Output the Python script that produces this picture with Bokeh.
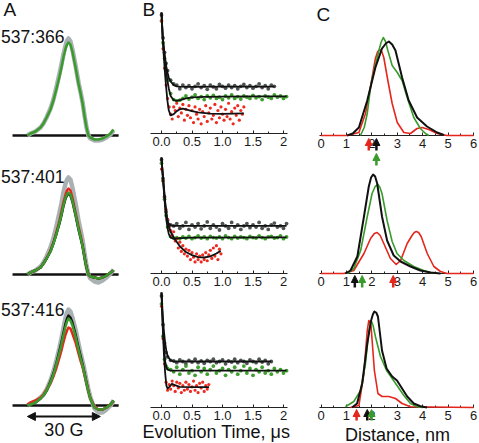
from bokeh.plotting import figure
from bokeh.layouts import row
from bokeh.models import Range1d, LinearAxis, FixedTicker, Label, Arrow, NormalHead
from bokeh.embed import file_html
from bokeh.resources import INLINE

# ---------------- data ----------------
# Panel A: cw EPR spectra (field offset in G, intensity a.u.)
A_FIELD = [-16.9, -15.6, -13.6, -11.5, -10.3, -9.0, -7.4, -6.2, -4.9, -3.7, -2.9, -2.1, -1.2, -0.6, 0.0,
           0.8, 1.6, 2.9, 4.1, 4.9, 5.8, 6.6, 7.4, 8.2, 9.0, 10.7, 12.3, 14.0, 15.6, 17.3, 18.5]
A1_GRAY = [0, 2, 4, 8, 12, 18, 27, 36, 49, 62, 71, 81, 90, 95, 97, 94, 86, 70, 53, 44, 33, 20, 8, 0, -3, -5, -5, -4, -2, 1, 5]
A1_GREEN = [0, 2, 4, 8, 12, 18, 26, 35, 47, 59, 68, 78, 87, 91, 93, 91, 84, 68, 52, 43, 32, 19, 8, 0, -2, -4, -4, -3, -1, 2, 6]
A2_GRAY = [0, 2, 4, 8, 12, 18, 27, 36, 49, 62, 71, 82, 91, 95, 97, 95, 87, 71, 54, 45, 34, 21, 9, 0, -4, -7, -8, -6, -3, 1, 5]
A2_RED = [0, 2, 4, 7, 11, 16, 24, 32, 43, 54, 63, 72, 80, 84, 86, 84, 77, 62, 48, 40, 29, 18, 7, 0, -2, -3, -4, -3, -1, 2, 4]
A2_BLACK = [0, 2, 4, 7, 11, 16, 23, 31, 41, 51, 59, 68, 76, 79, 81, 79, 73, 59, 45, 37, 28, 17, 7, 0, -2, -3, -4, -3, -1, 2, 4]
A2_GREEN = [0, 2, 4, 7, 11, 16, 23, 31, 41, 52, 60, 69, 77, 80, 82, 80, 74, 60, 46, 38, 28, 17, 7, 0, -2, -3, -4, -3, -1, 2, 4]
A3_GRAY = [0, 2, 4, 8, 11, 16, 25, 34, 46, 58, 67, 77, 88, 93, 96, 94, 88, 76, 62, 53, 44, 35, 25, 16, 8, -3, -7, -7, -4, 0, 5]
A3_BLACK = [0, 1, 3, 7, 10, 15, 24, 32, 43, 55, 63, 72, 82, 87, 90, 88, 83, 71, 58, 50, 41, 32, 23, 14, 7, -2, -4, -4, -2, 1, 5]
A3_RED = [1, 3, 5, 8, 11, 16, 22, 29, 38, 48, 55, 63, 71, 75, 78, 77, 72, 63, 52, 45, 38, 30, 22, 14, 7, -1, -4, -4, -2, 1, 4]
A3_GREEN = [0, 1, 3, 7, 10, 15, 23, 31, 42, 53, 61, 70, 79, 84, 87, 85, 80, 69, 56, 48, 40, 31, 22, 14, 7, -2, -4, -4, -2, 1, 5]
A_BASE_X = [-23.0, 20.6]
A_BASE_Y = [0, 0]
A_LABELS = ["537:366", "537:401", "537:416"]
A_SCALE_G = [-16.9, 13.1]  # 30 G bar

# Panel B: DEER traces (time in us, normalised echo)
T_DOTS = [0.0, 0.025, 0.05, 0.075, 0.1, 0.15, 0.2, 0.25, 0.3, 0.35, 0.4, 0.45, 0.5, 0.55, 0.6, 0.65, 0.7, 0.75,
          0.8, 0.85, 0.9, 0.95, 1.0, 1.05, 1.1, 1.15, 1.2, 1.25, 1.3, 1.35, 1.4, 1.45, 1.5, 1.55, 1.6, 1.65, 1.7,
          1.75, 1.8, 1.85, 1.9, 1.95, 2.0, 2.05]
T_RED = [0.0, 0.025, 0.05, 0.075, 0.1, 0.125, 0.15, 0.175, 0.2, 0.225, 0.25, 0.275, 0.3, 0.325, 0.35, 0.375,
         0.4, 0.425, 0.45, 0.475, 0.5, 0.525, 0.55, 0.575, 0.6, 0.625, 0.65, 0.675, 0.7, 0.725, 0.75, 0.775,
         0.8, 0.825, 0.85, 0.875, 0.9, 0.925, 0.95, 0.975, 1.0, 1.025, 1.05, 1.075, 1.1, 1.125, 1.15, 1.175,
         1.2, 1.225, 1.25, 1.275, 1.3, 1.325, 1.35]

B1_GRAY = [0.98, 0.79, 0.67, 0.58, 0.52, 0.44, 0.41, 0.40, 0.37, 0.40, 0.38, 0.395, 0.37, 0.39, 0.41, 0.38, 0.395,
           0.365, 0.40, 0.385, 0.37, 0.405, 0.39, 0.375, 0.40, 0.38, 0.395, 0.37, 0.39, 0.405, 0.38, 0.395, 0.375,
           0.39, 0.41, 0.38, 0.395, 0.37, 0.40, 0.39]
B1_GREEN = [0.93, 0.75, 0.62, 0.52, 0.44, 0.33, 0.28, 0.27, 0.275, 0.29, 0.31, 0.285, 0.30, 0.32, 0.29, 0.305,
            0.28, 0.31, 0.295, 0.315, 0.29, 0.30, 0.28, 0.31, 0.295, 0.32, 0.29, 0.305, 0.285, 0.31, 0.30, 0.29,
            0.315, 0.295, 0.305, 0.28, 0.31, 0.30, 0.29, 0.32, 0.30, 0.31, 0.29, 0.305]
B1_RED = [0.93, 0.70, 0.54, 0.40, 0.29, 0.22, 0.16, 0.12, 0.22, 0.19, 0.25, 0.14, 0.21, 0.17, 0.24, 0.11, 0.20,
          0.15, 0.23, 0.13, 0.19, 0.09, 0.22, 0.16, 0.12, 0.20, 0.08, 0.18, 0.14, 0.23, 0.10, 0.17, 0.21, 0.12,
          0.15, 0.24, 0.09, 0.19, 0.13, 0.22, 0.16, 0.11, 0.20, 0.14, 0.25, 0.12, 0.18, 0.08, 0.21, 0.15, 0.23,
          0.11, 0.19, 0.16, 0.22]
B1_FIT_GRAY_T = [0, 0.02, 0.04, 0.06, 0.08, 0.10, 0.12, 0.15, 0.2, 0.25, 0.3, 0.5, 1.0, 1.5, 1.85]
B1_FIT_GRAY = [1.0, 0.80, 0.70, 0.62, 0.55, 0.50, 0.46, 0.43, 0.40, 0.39, 0.388, 0.385, 0.387, 0.387, 0.388]
B1_FIT_GREEN_T = [0, 0.02, 0.04, 0.06, 0.08, 0.10, 0.12, 0.15, 0.2, 0.25, 0.3, 0.4, 0.5, 0.7, 1.0, 1.5, 2.05]
B1_FIT_GREEN = [1.0, 0.80, 0.68, 0.58, 0.50, 0.43, 0.37, 0.31, 0.275, 0.27, 0.275, 0.29, 0.298, 0.303, 0.305, 0.306, 0.306]
B1_FIT_RED_T = [0, 0.02, 0.04, 0.06, 0.08, 0.10, 0.12, 0.15, 0.2, 0.25, 0.3, 0.35, 0.4, 0.5, 0.6, 0.8, 1.0, 1.35]
B1_FIT_RED = [1.0, 0.78, 0.62, 0.48, 0.36, 0.26, 0.19, 0.15, 0.16, 0.185, 0.20, 0.205, 0.20, 0.185, 0.175, 0.165, 0.163, 0.167]

B2_GRAY = [0.98, 0.82, 0.66, 0.53, 0.46, 0.42, 0.41, 0.43, 0.39, 0.41, 0.44, 0.38, 0.42, 0.40, 0.43, 0.385, 0.41,
           0.445, 0.39, 0.42, 0.40, 0.375, 0.43, 0.41, 0.39, 0.44, 0.40, 0.42, 0.38, 0.41, 0.43, 0.395, 0.42, 0.40,
           0.44, 0.39, 0.41, 0.38, 0.42, 0.435, 0.40, 0.41, 0.39, 0.43]
B2_GREEN = [0.95, 0.80, 0.64, 0.50, 0.40, 0.32, 0.305, 0.31, 0.30, 0.315, 0.305, 0.32, 0.30, 0.31, 0.325, 0.305,
            0.315, 0.30, 0.32, 0.31, 0.305, 0.315, 0.30, 0.325, 0.31, 0.30, 0.32, 0.305, 0.315, 0.31, 0.30, 0.32,
            0.31, 0.305, 0.325, 0.31, 0.30, 0.315, 0.32, 0.305, 0.31, 0.325, 0.30, 0.315]
B2_RED = [0.90, 0.80, 0.66, 0.55, 0.47, 0.40, 0.37, 0.33, 0.36, 0.28, 0.30, 0.22, 0.27, 0.19, 0.24, 0.17, 0.21,
          0.15, 0.20, 0.12, 0.18, 0.14, 0.10, 0.17, 0.12, 0.15, 0.10, 0.16, 0.12, 0.18, 0.11, 0.16, 0.20, 0.13,
          0.22, 0.15, 0.24, 0.12, 0.21, 0.17]
B2_FIT_GRAY_T = [0, 0.02, 0.04, 0.06, 0.08, 0.1, 0.12, 0.15, 0.2, 2.05]
B2_FIT_GRAY = [1.0, 0.85, 0.72, 0.60, 0.50, 0.45, 0.43, 0.415, 0.41, 0.41]
B2_FIT_GREEN_T = [0, 0.02, 0.04, 0.06, 0.08, 0.1, 0.12, 0.15, 0.2, 0.3, 0.5, 2.05]
B2_FIT_GREEN = [1.0, 0.84, 0.70, 0.57, 0.46, 0.39, 0.34, 0.31, 0.30, 0.305, 0.31, 0.312]
B2_FIT_RED_T = [0, 0.02, 0.04, 0.06, 0.08, 0.1, 0.15, 0.2, 0.3, 0.4, 0.5, 0.6, 0.7, 0.8, 0.9, 0.97]
B2_FIT_RED = [1.0, 0.86, 0.74, 0.62, 0.52, 0.44, 0.36, 0.31, 0.235, 0.185, 0.158, 0.142, 0.138, 0.148, 0.172, 0.195]

B3_GRAY = [0.97, 0.72, 0.56, 0.48, 0.44, 0.41, 0.405, 0.39, 0.415, 0.40, 0.38, 0.41, 0.395, 0.42, 0.39, 0.405,
           0.385, 0.41, 0.40, 0.42, 0.39, 0.40, 0.415, 0.38, 0.405, 0.395, 0.42, 0.39, 0.41, 0.40, 0.385, 0.415,
           0.40, 0.39, 0.42, 0.395, 0.41, 0.38, 0.40]
B3_GREEN = [0.90, 0.62, 0.42, 0.36, 0.34, 0.33, 0.31, 0.35, 0.29, 0.33, 0.36, 0.30, 0.32, 0.28, 0.35, 0.31, 0.34,
            0.29, 0.33, 0.36, 0.30, 0.32, 0.34, 0.28, 0.33, 0.31, 0.35, 0.29, 0.32, 0.36, 0.30, 0.34, 0.28, 0.33,
            0.31, 0.35, 0.30, 0.32, 0.29, 0.34, 0.31, 0.33, 0.30, 0.32]
B3_RED = [0.88, 0.60, 0.38, 0.22, 0.15, 0.20, 0.16, 0.23, 0.19, 0.14, 0.22, 0.17, 0.21, 0.13, 0.19, 0.15, 0.22,
          0.16, 0.20, 0.14, 0.18, 0.23, 0.15, 0.19, 0.13, 0.21, 0.17, 0.22, 0.14, 0.19, 0.16, 0.20]
B3_FIT_GRAY_T = [0, 0.02, 0.04, 0.06, 0.08, 0.1, 0.12, 0.15, 0.2, 1.8]
B3_FIT_GRAY = [1.0, 0.80, 0.66, 0.56, 0.49, 0.45, 0.43, 0.41, 0.40, 0.40]
B3_FIT_GREEN_T = [0, 0.02, 0.04, 0.06, 0.08, 0.1, 0.15, 2.05]
B3_FIT_GREEN = [1.0, 0.74, 0.55, 0.40, 0.35, 0.33, 0.32, 0.32]
B3_FIT_RED_T = [0, 0.02, 0.04, 0.06, 0.08, 0.1, 0.13, 0.17, 0.22, 0.3, 0.5, 0.78]
B3_FIT_RED = [1.0, 0.70, 0.46, 0.30, 0.19, 0.165, 0.18, 0.205, 0.195, 0.18, 0.178, 0.178]

B_TICKS = [0, 0.5, 1, 1.5, 2]
B_TICK_LABELS = ["0.0", "0.5", "1.0", "1.5", "2"]

# Panel C: distance distributions (nm, a.u.)
C1_BLACK_R = [1.03, 1.25, 1.49, 1.82, 2.14, 2.40, 2.55, 2.67, 2.80, 2.93, 3.19, 3.45, 3.78, 4.17, 4.57, 4.83]
C1_BLACK = [0, 2, 8, 35, 68, 87, 92, 94, 91, 85, 58, 35, 18, 9, 3, 0.5]
C1_GREEN_R = [1.55, 1.70, 1.82, 1.97, 2.21, 2.36, 2.45, 2.54, 2.63, 2.80, 3.00, 3.19, 3.39, 3.65, 3.91, 4.11, 4.24]
C1_GREEN = [0, 8, 22, 52, 78, 93, 98, 94, 85, 70, 63, 55, 38, 18, 7, 2, 0]
C1_RED_R = [0, 1.03, 1.49, 1.75, 1.97, 2.14, 2.23, 2.31, 2.39, 2.47, 2.63, 2.80, 3.00, 3.26, 3.52, 3.78, 3.98, 4.24,
            4.57, 4.96, 6.0]
C1_RED = [0, 0, 3, 22, 52, 77, 84, 86, 84, 78, 55, 32, 13, 3, 2, 7, 8, 6, 2, 0, 0]
C2_BLACK_R = [0.96, 1.16, 1.43, 1.69, 1.88, 1.97, 2.05, 2.13, 2.21, 2.40, 2.60, 2.86, 3.13, 3.52, 3.91, 4.31, 4.70]
C2_BLACK = [0, 3, 17, 57, 87, 96, 99, 97, 90, 57, 33, 18, 12, 7, 3, 1, 0]
C2_GREEN_R = [1.03, 1.29, 1.56, 1.82, 2.01, 2.13, 2.24, 2.32, 2.40, 2.60, 2.80, 2.99, 3.26, 3.65, 4.04, 4.44]
C2_GREEN = [0, 5, 23, 57, 80, 87, 89, 86, 80, 53, 32, 20, 13, 7, 3, 0]
C2_RED_R = [0, 0.90, 1.29, 1.69, 1.95, 2.10, 2.21, 2.33, 2.47, 2.73, 2.96, 3.13, 3.39, 3.58, 3.67, 3.75, 3.84, 3.94,
            4.18, 4.44, 4.70, 4.96, 6.0]
C2_RED = [0, 0, 3, 20, 35, 40, 41, 38, 30, 15, 9, 13, 30, 38, 41, 42, 41, 37, 20, 7, 2, 0, 0]
C3_BLACK_R = [1.22, 1.42, 1.62, 1.82, 1.97, 2.04, 2.10, 2.17, 2.24, 2.40, 2.58, 2.80, 2.99, 3.19, 3.39, 3.65, 3.91, 4.17]
C3_BLACK = [0, 4, 24, 64, 87, 93, 96, 95, 91, 57, 39, 31, 27, 19, 11, 4, 1.3, 0]
C3_GREEN_R = [0.96, 1.29, 1.56, 1.75, 1.88, 1.94, 1.99, 2.05, 2.14, 2.34, 2.58, 2.80, 2.99, 3.26, 3.52, 3.78, 4.0]
C3_GREEN = [0.7, 6, 17, 44, 76, 83, 86, 82, 71, 51, 37, 29, 22, 12, 4, 0.7, 0]
C3_RED_R = [1.16, 1.49, 1.69, 1.76, 1.82, 1.88, 1.93, 1.97, 2.10, 2.24, 2.40, 2.67, 2.93, 3.19, 3.52, 6.0]
C3_RED = [0, 2, 34, 58, 77, 87, 85, 81, 37, 14, 11, 11, 9, 4, 0.7, 0]
C1_ARROWS = [1.88, 2.18, 2.18]   # red, black, green mean distances
C2_ARROWS = [2.84, 1.33, 1.62]
C3_ARROWS = [1.40, 1.82, 1.99]
C_TICKS = [0, 1, 2, 3, 4, 5, 6]

# ---------------- style ----------------
FONT = "Liberation Sans"
GRAY_A = "#a9b1b2"
GREEN = "#3a9b2c"
RED = "#e4261d"
BLACK = "#111111"
DOT_GRAY = "#4e5353"
DOT_GREEN = "#3fa02f"
DOT_RED = "#ee2b20"
TOP, BOTTOM, H = 0, 443, 443


def y_span(px_zero, px_per_unit):
    return Range1d(start=-(BOTTOM - px_zero) / px_per_unit, end=(px_zero - TOP) / px_per_unit)


def x_span(left, right, px_zero, px_per_unit):
    return Range1d(start=-(px_zero - left) / px_per_unit, end=(right - px_zero) / px_per_unit)


def make_fig(width, xr, yranges):
    p = figure(width=width, height=H, x_range=xr, y_range=Range1d(0, 1), output_backend="svg",
               toolbar_location=None, x_axis_location=None, y_axis_location=None, min_border=0,
               outline_line_color=None, background_fill_color="white", border_fill_color="white")
    for g in p.grid:
        g.visible = False
    p.extra_y_ranges = yranges
    return p


def add_label(p, x, y, text, rname, size, align="left", baseline="alphabetic"):
    p.add_layout(Label(x=x, y=y, text=text, y_range_name=rname, text_font=FONT, text_font_size=size,
                       text_color=BLACK, text_align=align, text_baseline=baseline))


def add_axis(p, rname, ticks, minor, labels, bounds):
    ax = LinearAxis(y_range_name=rname, fixed_location=0, bounds=bounds,
                    ticker=FixedTicker(ticks=ticks, minor_ticks=minor),
                    major_label_overrides={t: l for t, l in zip(ticks, labels)},
                    axis_line_color="#222222", axis_line_width=1,
                    major_tick_in=3, major_tick_out=0, minor_tick_in=2, minor_tick_out=0,
                    major_tick_line_color="#222222", minor_tick_line_color="#222222",
                    major_label_standoff=3, major_label_text_font=FONT,
                    major_label_text_font_size="13px", major_label_text_color="#1a1a1a")
    ax.level = "underlay"
    p.add_layout(ax, "below")


def add_arrow(p, x, tip, tail, color, rname):
    p.add_layout(Arrow(end=NormalHead(size=7, fill_color=color, line_color=color, line_width=1),
                       x_start=x, y_start=tail, x_end=x, y_end=tip, line_color=color, line_width=2.5,
                       y_range_name=rname))


# ---------------- Panel A ----------------
pA = make_fig(140, x_span(0, 140, 68, 2.433),
              {"a1": y_span(135, 1), "a2": y_span(274, 1), "a3": y_span(405, 1)})
a_rows = [
    ("a1", [(A1_GRAY, GRAY_A, 4.5), (A1_GREEN, GREEN, 2.5)], 99),
    ("a2", [(A2_GRAY, GRAY_A, 4.5), (A2_RED, RED, 2.5), (A2_BLACK, BLACK, 2.5), (A2_GREEN, GREEN, 2.5)], 98),
    ("a3", [(A3_GRAY, GRAY_A, 4.5), (A3_BLACK, BLACK, 2.5), (A3_RED, RED, 2.5), (A3_GREEN, GREEN, 2.5)], 96),
]
for (rname, curves, lab_y), lab in zip(a_rows, A_LABELS):
    pA.line(A_BASE_X, A_BASE_Y, line_color=BLACK, line_width=2.5, y_range_name=rname)
    for ys, c, w in curves:
        pA.line(A_FIELD, ys, line_color=c, line_width=w, line_join="round", y_range_name=rname)
    add_label(pA, -27.7, lab_y, lab, rname, "17.5px")
add_label(pA, -26.7, 137, "A", "a1", "19px", baseline="top")
pA.add_layout(Arrow(start=NormalHead(size=8, fill_color=BLACK, line_color=BLACK),
                    end=NormalHead(size=8, fill_color=BLACK, line_color=BLACK),
                    x_start=A_SCALE_G[0], y_start=-11, x_end=A_SCALE_G[1], y_end=-11,
                    line_color=BLACK, line_width=2, y_range_name="a3"))
add_label(pA, (A_SCALE_G[0] + A_SCALE_G[1]) / 2, -24, "30 G", "a3", "18px", align="center")

# ---------------- Panel B ----------------
pB = make_fig(160, x_span(140, 300, 161, 61),
              {"b1": y_span(133, 121), "b2": y_span(273, 116), "b3": y_span(407, 115)})
b_rows = [
    ("b1", B1_GRAY, B1_GREEN, B1_RED,
     [(B1_FIT_GRAY_T, B1_FIT_GRAY), (B1_FIT_GREEN_T, B1_FIT_GREEN), (B1_FIT_RED_T, B1_FIT_RED)]),
    ("b2", B2_GRAY, B2_GREEN, B2_RED,
     [(B2_FIT_GRAY_T, B2_FIT_GRAY), (B2_FIT_GREEN_T, B2_FIT_GREEN), (B2_FIT_RED_T, B2_FIT_RED)]),
    ("b3", B3_GRAY, B3_GREEN, B3_RED,
     [(B3_FIT_GRAY_T, B3_FIT_GRAY), (B3_FIT_GREEN_T, B3_FIT_GREEN), (B3_FIT_RED_T, B3_FIT_RED)]),
]
for rname, g, gr, r, fits in b_rows:
    pB.scatter(T_DOTS[:len(g)], g, size=3.8, marker="circle", fill_color=DOT_GRAY, line_color=None,
               y_range_name=rname)
    pB.scatter(T_DOTS[:len(gr)], gr, size=3.8, marker="circle", fill_color=DOT_GREEN, line_color=None,
               y_range_name=rname)
    pB.scatter(T_RED[:len(r)], r, size=3.2, marker="circle", fill_color=DOT_RED, line_color=None,
               y_range_name=rname)
    for tt, vv in fits:
        pB.line(tt, vv, line_color=BLACK, line_width=1.8, line_join="round", y_range_name=rname)
    add_axis(pB, rname, B_TICKS, [0.25, 0.75, 1.25, 1.75], B_TICK_LABELS, (-0.18, 2.07))
add_label(pB, -0.31, 1.115, "B", "b1", "19px", baseline="top")
add_label(pB, 0.90, -0.21, "Evolution Time, \u03bcs", "b3", "18px", align="center")

# ---------------- Panel C ----------------
pC = make_fig(179, x_span(300, 479, 320.5, 25.42),
              {"c1": y_span(135, 1), "c2": y_span(273, 1), "c3": y_span(407, 1)})
c_rows = [
    ("c1", [(C1_RED_R, C1_RED, RED, 1.6), (C1_GREEN_R, C1_GREEN, GREEN, 1.6), (C1_BLACK_R, C1_BLACK, BLACK, 2)],
     C1_ARROWS, [(-3, -15), (-3, -15), (-18, -30)]),
    ("c2", [(C2_RED_R, C2_RED, RED, 1.6), (C2_GREEN_R, C2_GREEN, GREEN, 1.6), (C2_BLACK_R, C2_BLACK, BLACK, 2)],
     C2_ARROWS, [(-2, -14), (-2, -14), (-2, -14)]),
    ("c3", [(C3_RED_R, C3_RED, RED, 1.6), (C3_GREEN_R, C3_GREEN, GREEN, 1.6), (C3_BLACK_R, C3_BLACK, BLACK, 2)],
     C3_ARROWS, [(-2, -13), (-2, -13), (-2, -13)]),
]
for rname, curves, arrows, offs in c_rows:
    add_axis(pC, rname, C_TICKS, [0.5, 1.5, 2.5, 3.5, 4.5, 5.5], [str(t) for t in C_TICKS], (-0.05, 6.0))
    for xs, ys, c, w in curves:
        pC.line(xs, ys, line_color=c, line_width=w, line_join="round", y_range_name=rname)
    for xpos, (tip, tail), c in zip(arrows, offs, [RED, BLACK, GREEN]):
        add_arrow(pC, xpos, tip, tail, c, rname)
add_label(pC, -0.18, 132, "C", "c1", "19px", baseline="top")
add_label(pC, 3.01, -27, "Distance, nm", "c3", "18px", align="center")

layout = row(pA, pB, pC)
open("out.html", "w").write(file_html(layout, INLINE))
